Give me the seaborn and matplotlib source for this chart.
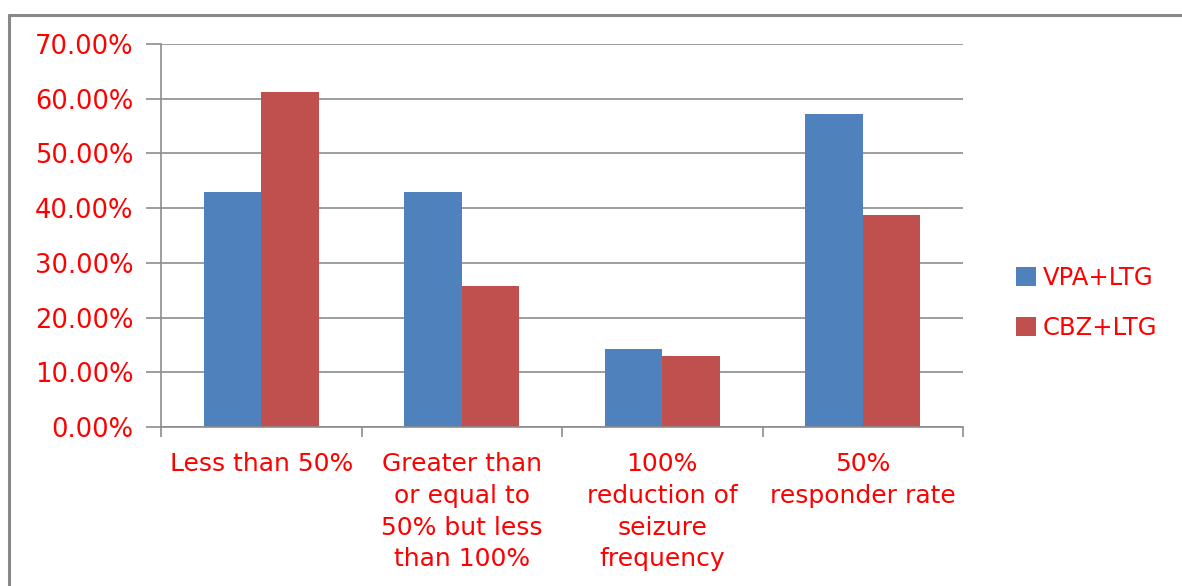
import matplotlib
matplotlib.use("Agg")
import matplotlib.pyplot as plt
from matplotlib.lines import Line2D
from matplotlib.patches import Patch
import seaborn as sns
import pandas as pd

categories = [
    "Less than 50%",
    "Greater than\nor equal to\n50% but less\nthan 100%",
    "100%\nreduction of\nseizure\nfrequency",
    "50%\nresponder rate",
]
series_names = ["VPA+LTG", "CBZ+LTG"]
vpa_ltg = [42.86, 42.86, 14.29, 57.14]
cbz_ltg = [61.29, 25.81, 12.90, 38.71]
y_ticks = [0, 10, 20, 30, 40, 50, 60, 70]

colors = ["#4F81BD", "#C0504D"]
text_red = "#FF0000"
grid_gray = "#8C8C8C"

df = pd.DataFrame({
    "category": categories * 2,
    "series": [series_names[0]] * 4 + [series_names[1]] * 4,
    "value": vpa_ltg + cbz_ltg,
})

sns.set_theme(style="white")
plt.rcParams["font.family"] = ["DejaVu Sans"]

fig = plt.figure(figsize=(11.82, 5.86), dpi=100)
ax = fig.add_axes([161 / 1182, 1 - 427 / 586, (963 - 161) / 1182, (427 - 44) / 586])

sns.barplot(data=df, x="category", y="value", hue="series", order=categories,
            hue_order=series_names, palette=colors, width=0.572, saturation=1,
            edgecolor="none", linewidth=0, legend=False, ax=ax)

ax.set_xlim(-0.5, len(categories) - 0.5)
ax.set_ylim(0, 70)
ax.set_yticks(y_ticks)
ax.set_yticklabels([f"{v:.2f}%" for v in y_ticks], color=text_red, fontsize=18.5)
ax.yaxis.grid(True, color=grid_gray, linewidth=1.2)
ax.set_axisbelow(True)
ax.tick_params(axis="y", length=11, width=1.2, color=grid_gray, pad=9, left=True)

ax.set_xticks(range(len(categories)))
ax.set_xticklabels(categories, color=text_red, fontsize=18, linespacing=1.41, va="top")
ax.set_xticks([i - 0.5 for i in range(len(categories) + 1)], minor=True)
ax.tick_params(axis="x", which="major", length=0, pad=18)
ax.tick_params(axis="x", which="minor", length=7, width=1.2, color=grid_gray, bottom=True)

ax.set_xlabel("")
ax.set_ylabel("")
for side in ["top", "right"]:
    ax.spines[side].set_visible(False)
for side in ["left", "bottom"]:
    ax.spines[side].set_color(grid_gray)
    ax.spines[side].set_linewidth(1.2)

handles = [Patch(facecolor=c, edgecolor="none") for c in colors]
leg = fig.legend(handles, series_names, loc="center left",
                 bbox_to_anchor=(994 / 1182, 1 - 303 / 586), frameon=False,
                 fontsize=17.5, handlelength=0.82, handleheight=0.82,
                 handletextpad=0.3, labelspacing=1.1)
for t in leg.get_texts():
    t.set_color(text_red)

# outer chart frame
fig.add_artist(Line2D([9 / 1182, 1.0], [1 - 15 / 586, 1 - 15 / 586],
                      color="#888888", linewidth=2.2, transform=fig.transFigure))
fig.add_artist(Line2D([9 / 1182, 9 / 1182], [0.0, 1 - 15 / 586],
                      color="#888888", linewidth=2.2, transform=fig.transFigure))

fig.savefig("out.png", dpi=100, facecolor="white")
